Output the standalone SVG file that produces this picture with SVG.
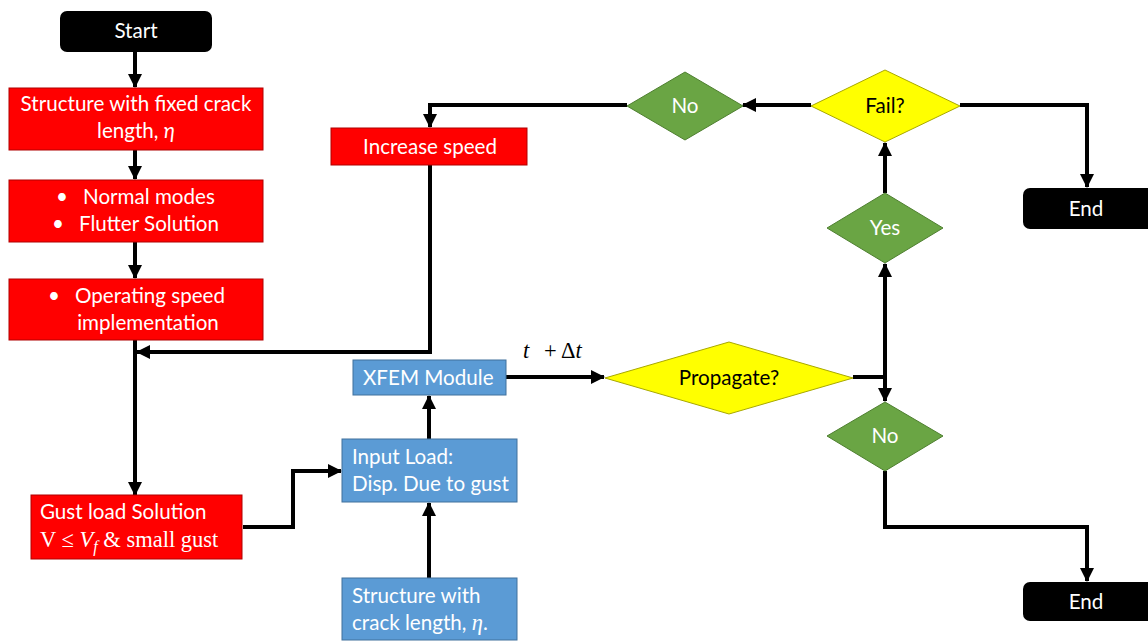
<svg xmlns="http://www.w3.org/2000/svg" width="1148" height="642" viewBox="0 0 1148 642">
<defs>
<marker id="ah" markerUnits="userSpaceOnUse" markerWidth="14" markerHeight="14" refX="13" refY="7" orient="auto">
<path d="M0,0 L14,7 L0,14 z" fill="#000"/>
</marker>
<style>
.red{fill:#FF0000;stroke:#B00000;stroke-width:1}
.blue{fill:#5B9BD5;stroke:#41719C;stroke-width:1}
.green{fill:#6AA544;stroke:#4E7F30;stroke-width:1}
.yellow{fill:#FFFF00;stroke:#A8A800;stroke-width:1}
.term{fill:#000}
.t{font-family:Lato,"Open Sans","Liberation Sans",sans-serif;font-size:20.6px;fill:#fff}
.tk{font-family:Lato,"Open Sans","Liberation Sans",sans-serif;font-size:20.6px;fill:#000}
.m{font-family:"Liberation Serif","DejaVu Serif",serif;font-size:22.5px}
.c{text-anchor:middle}
.edge{fill:none;stroke:#000;stroke-width:4}
</style>
</defs>
<rect width="1148" height="642" fill="#fff"/>
<g id="connectors">
<path class="edge" d="M135,52 V87" marker-end="url(#ah)"/>
<path class="edge" d="M135,150 V179" marker-end="url(#ah)"/>
<path class="edge" d="M135,242 V278" marker-end="url(#ah)"/>
<path class="edge" d="M135,340 V495" marker-end="url(#ah)"/>
<path class="edge" d="M430,165 V352 H137" marker-end="url(#ah)"/>
<path class="edge" d="M243,527 H293 V471 H341" marker-end="url(#ah)"/>
<path class="edge" d="M429,578 V503" marker-end="url(#ah)"/>
<path class="edge" d="M429,439 V396" marker-end="url(#ah)"/>
<path class="edge" d="M506,377 H604" marker-end="url(#ah)"/>
<path class="edge" d="M853,377 H885"/>
<path class="edge" d="M885,379 V264" marker-end="url(#ah)"/>
<path class="edge" d="M885,375 V401" marker-end="url(#ah)"/>
<path class="edge" d="M885,193 V143" marker-end="url(#ah)"/>
<path class="edge" d="M811,105 H743" marker-end="url(#ah)"/>
<path class="edge" d="M627,105 H430 V127" marker-end="url(#ah)"/>
<path class="edge" d="M960,105 H1087 V187" marker-end="url(#ah)"/>
<path class="edge" d="M885,471 V527 H1087 V581" marker-end="url(#ah)"/>
</g>
<g id="start">
<rect class="term" x="60" y="11" width="152" height="41" rx="7"/>
<text class="t c" x="136" y="38">Start</text>
</g>
<g id="structure-fixed">
<rect class="red" x="9" y="88" width="254" height="62"/>
<text class="t c" x="136" y="111">Structure with fixed crack</text>
<text class="t c" x="136" y="138">length, <tspan font-style="italic">η</tspan></text>
</g>
<g id="modes">
<rect class="red" x="9" y="180" width="254" height="62"/>
<text class="t" x="56" y="204">•</text>
<text class="t" x="83" y="204">Normal modes</text>
<text class="t" x="52" y="231">•</text>
<text class="t" x="79" y="231">Flutter Solution</text>
</g>
<g id="operating">
<rect class="red" x="9" y="279" width="254" height="61"/>
<text class="t" x="48" y="303">•</text>
<text class="t" x="75" y="303">Operating speed</text>
<text class="t c" x="148" y="330">implementation</text>
</g>
<g id="increase">
<rect class="red" x="331" y="128" width="196" height="37"/>
<text class="t c" x="430" y="154">Increase speed</text>
</g>
<g id="gust">
<rect class="red" x="31" y="495" width="211" height="64"/>
<text class="t" x="40" y="519">Gust load Solution</text>
<text class="m" x="40" y="547" fill="#fff">V ≤ <tspan font-style="italic">V</tspan><tspan font-style="italic" font-size="16" dy="5">f</tspan><tspan dy="-5"> &amp; small gust</tspan></text>
</g>
<g id="xfem">
<rect class="blue" x="353" y="360" width="153" height="35"/>
<text class="t" x="363" y="385">XFEM Module</text>
</g>
<g id="input">
<rect class="blue" x="342" y="439" width="175" height="63"/>
<text class="t" x="352" y="464">Input Load:</text>
<text class="t" x="352" y="491">Disp. Due to gust</text>
</g>
<g id="structure-crack">
<rect class="blue" x="342" y="578" width="175" height="62"/>
<text class="t" x="352" y="603">Structure with</text>
<text class="t" x="352" y="630">crack length, <tspan class="m" font-style="italic" font-size="21">η</tspan>.</text>
</g>
<g id="dt-label">
<text class="m" x="523" y="358" fill="#000" font-style="italic">t</text>
<text class="m" x="544" y="358" fill="#000">+ Δ<tspan font-style="italic">t</tspan></text>
</g>
<g id="propagate">
<polygon class="yellow" points="605,378 729,342 853,378 729,414"/>
<text class="tk c" x="729" y="385">Propagate?</text>
</g>
<g id="fail">
<polygon class="yellow" points="811,106 885,70 960,106 885,142"/>
<text class="tk c" x="885" y="113">Fail?</text>
</g>
<g id="no-top">
<polygon class="green" points="627,106 685,72 743,106 685,140"/>
<text class="t c" x="685" y="113">No</text>
</g>
<g id="yes">
<polygon class="green" points="827,228 885,193 943,228 885,263"/>
<text class="t c" x="885" y="235">Yes</text>
</g>
<g id="no-bottom">
<polygon class="green" points="827,436 885,402 943,436 885,471"/>
<text class="t c" x="885" y="443">No</text>
</g>
<g id="end-top">
<rect class="term" x="1023" y="188" width="135" height="41" rx="7"/>
<text class="t c" x="1086" y="216">End</text>
</g>
<g id="end-bottom">
<rect class="term" x="1023" y="582" width="135" height="39" rx="7"/>
<text class="t c" x="1086" y="609">End</text>
</g>
</svg>
